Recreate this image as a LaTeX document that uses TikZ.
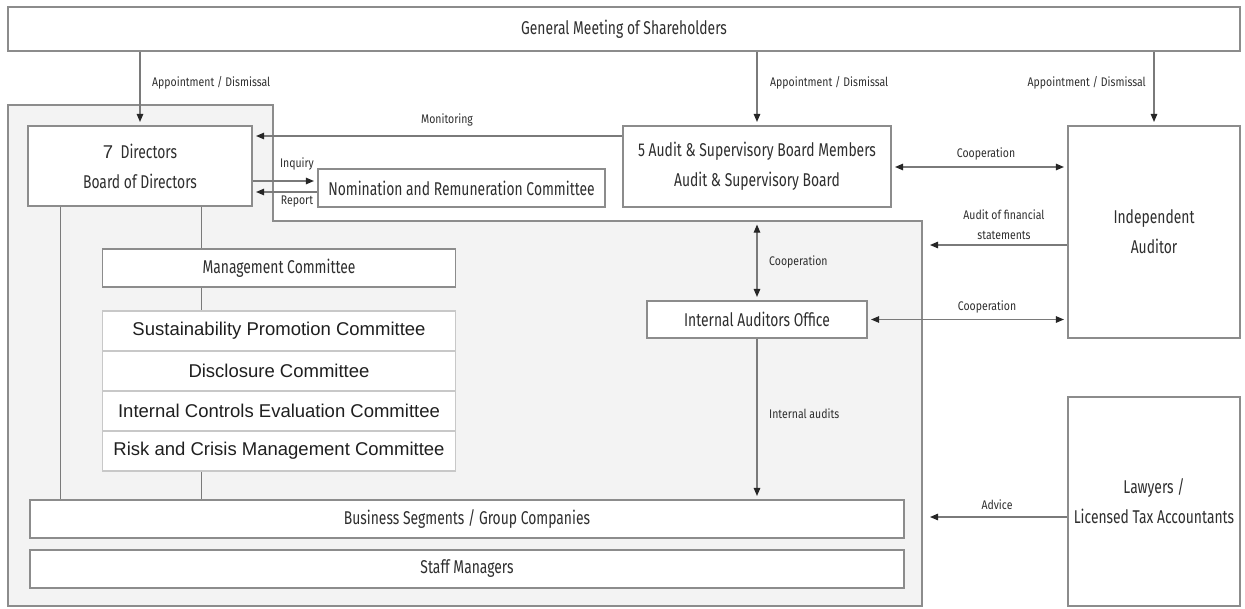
\documentclass[tikz,border=0pt]{standalone}
\usepackage{fontspec}
\usetikzlibrary{arrows.meta}
\newfontfamily\condfont[FakeStretch=0.75]{Fira Sans}
\newfontfamily\lblfont[FakeStretch=0.84]{Fira Sans}
\newfontfamily\arialfont{Liberation Sans}
\definecolor{bgc}{HTML}{F3F3F3}
\definecolor{bord}{HTML}{8C8C8C}
\definecolor{txt}{HTML}{2E2E2E}
\definecolor{lightb}{HTML}{C8C8C8}
\definecolor{lnc}{HTML}{7A7A7A}
\tikzset{
  box/.style={draw=bord, line width=1.1pt, fill=white, inner sep=0pt, align=center, text=txt, font=\condfont\fontsize{18.5}{30}\selectfont},
  cbox/.style={draw=lightb, line width=1.1pt, fill=white, inner sep=0pt, minimum width=353pt, minimum height=40pt, text=black!88, font=\arialfont\fontsize{18.5}{22}\selectfont},
  lbl/.style={text=txt, inner sep=0pt, font=\lblfont\fontsize{12.5}{20}\selectfont, align=center},
  tipx/.tip={Triangle[length=8pt,width=6.5pt,color=black!85]},
  arr/.style={draw=lnc, line width=1.1pt, -tipx, shorten >=3.5pt},
  darr/.style={draw=lnc, line width=1.1pt, tipx-tipx, shorten >=3.5pt, shorten <=3.5pt},
  conn/.style={draw=lnc, line width=1pt},
}
\begin{document}
\begin{tikzpicture}[x=1pt,y=-1pt]
\useasboundingbox (0,0) rectangle (1245,608);
% grey company area
\filldraw[fill=bgc, draw=bord, line width=1.1pt] (8,105) -- (273,105) -- (273,221) -- (922,221) -- (922,606) -- (8,606) -- cycle;
\coordinate (gR) at (922,400);

% boxes
\node[box, minimum width=1232pt, minimum height=44pt] (gm) at (624,29) {General Meeting of Shareholders};
\node[box, minimum width=224pt, minimum height=80pt] (dir) at (140,166) {{\arialfont 7}\ \ Directors\\Board of Directors};
\node[box, minimum width=287pt, minimum height=38pt] (nom) at (461.5,188) {Nomination and Remuneration Committee};
\node[box, minimum width=268pt, minimum height=81pt] (aud) at (757,166.5) {5 Audit \& Supervisory Board Members\\Audit \& Supervisory Board};
\node[box, minimum width=172pt, minimum height=212pt] (ind) at (1154,232) {Independent\\Auditor};
\node[box, minimum width=220pt, minimum height=37pt] (iao) at (757,319.5) {Internal Auditors Office};
\node[box, minimum width=172pt, minimum height=209pt] (law) at (1154,501.5) {Lawyers /\\Licensed Tax Accountants};
\node[box, minimum width=353pt, minimum height=38pt] (mgmt) at (279,268) {Management Committee};
\node[cbox] (c1) at (279,331) {Sustainability Promotion Committee};
\node[cbox] (c2) at (279,371) {Disclosure Committee};
\node[cbox] (c3) at (279,411) {Internal Controls Evaluation Committee};
\node[cbox] (c4) at (279,451) {Risk and Crisis Management Committee};
\node[box, minimum width=874pt, minimum height=38pt] (bus) at (467,519) {Business Segments / Group Companies};
\node[box, minimum width=874pt, minimum height=38pt] (staff) at (467,569) {Staff Managers};

% plain connectors
\draw[conn] (dir.south -| 60,0) -- (bus.north -| 60,0);
\draw[conn] (dir.south -| 201,0) -- (mgmt.north -| 201,0);
\draw[conn] (mgmt.south -| 201,0) -- (c1.north -| 201,0);
\draw[conn] (c4.south -| 201,0) -- (bus.north -| 201,0);

% arrows
\draw[arr] (dir.north |- gm.south) -- (dir.north);
\draw[arr] (aud.north |- gm.south) -- (aud.north);
\draw[arr] (ind.north |- gm.south) -- (ind.north);
\draw[arr] (aud.west |- 0,136) -- (dir.east |- 0,136);
\draw[arr] (dir.east |- 0,181) -- (nom.west |- 0,181);
\draw[arr] (nom.west |- 0,192) -- (dir.east |- 0,192);
\draw[darr] (aud.east |- 0,167) -- (ind.west |- 0,167);
\draw[arr, shorten >=8pt] (ind.west |- 0,245) -- (gR |- 0,245);
\draw[darr, shorten <=17pt] (aud.south) -- (iao.north);
\draw[darr] (iao.east) -- (ind.west |- iao.east);
\draw[arr] (iao.south) -- (iao.south |- bus.north);
\draw[arr, shorten >=8pt] (law.west |- 0,517) -- (gR |- 0,517);

% labels
\node[lbl, anchor=west] (l1) at (152,83) {Appointment / Dismissal};
\node[lbl, anchor=west] (l2) at (770,83) {Appointment / Dismissal};
\node[lbl, anchor=east] (l3) at (1146,83) {Appointment / Dismissal};
\node[lbl] (lmon) at (447,120) {Monitoring};
\node[lbl] (linq) at (297,164) {Inquiry};
\node[lbl] (lrep) at (297,202) {Report};
\node[lbl] (lco1) at (986,154) {Cooperation};
\node[lbl] (lafs) at (1004,225) {Audit of financial\\statements};
\node[lbl, anchor=west] (lco2) at (769,262) {Cooperation};
\node[lbl] (lco3) at (987,307) {Cooperation};
\node[lbl, anchor=west] (lia) at (769,414) {Internal audits};
\node[lbl] (ladv) at (997,505) {Advice};
\end{tikzpicture}
\end{document}
